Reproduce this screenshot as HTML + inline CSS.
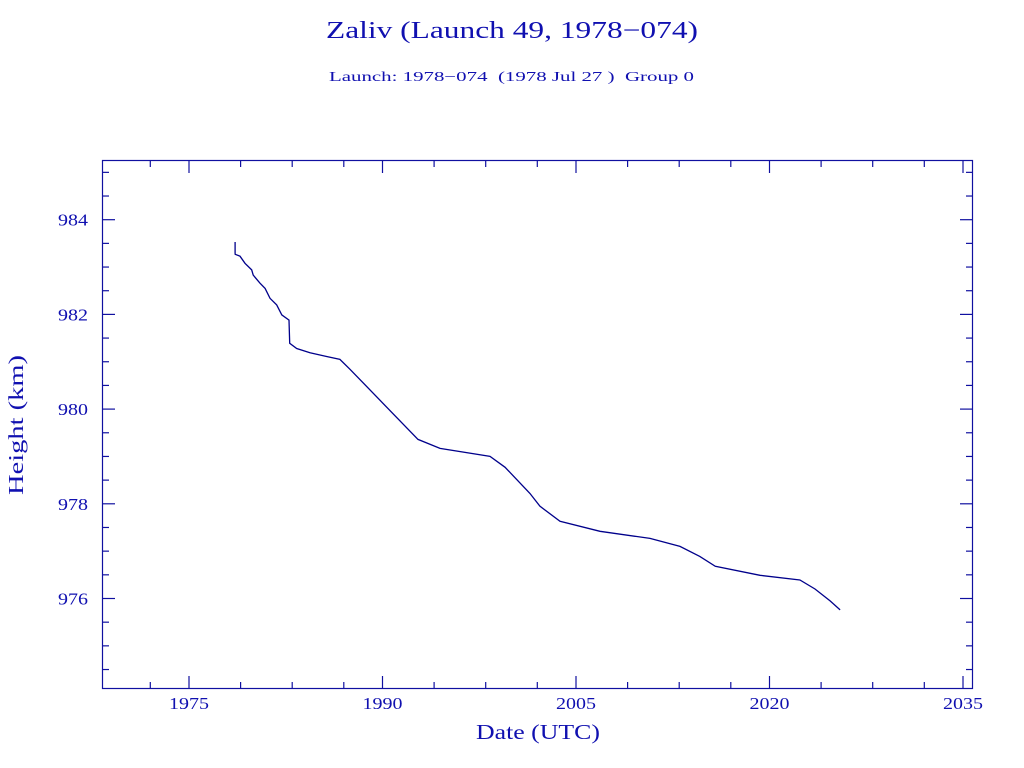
<!DOCTYPE html>
<html><head><meta charset="utf-8"><style>
body{margin:0;background:#fff;}
svg{display:block;font-family:"Liberation Serif",serif;}
text{white-space:pre;}
</style></head><body>
<svg width="1024" height="768">
<text x="326" y="38" font-size="24" fill="#1010b0" textLength="372" lengthAdjust="spacingAndGlyphs">Zaliv (Launch 49, 1978−074)</text>
<text x="329" y="81" font-size="14" fill="#1010b0" textLength="365" lengthAdjust="spacingAndGlyphs" xml:space="preserve">Launch: 1978−074  (1978 Jul 27 )  Group 0</text>
<rect x="102.5" y="160.5" width="870" height="528" fill="none" stroke="#1010a0" stroke-width="1.2"/>
<g id="axes"></g>
<path id="line" fill="none" stroke="#00008b" stroke-width="1.3"/>
<text x="476" y="739" font-size="21" fill="#1010b0" textLength="124" lengthAdjust="spacingAndGlyphs">Date (UTC)</text>
<text x="-495" y="23" font-size="21" fill="#1010b0" transform="rotate(-90)" textLength="140" lengthAdjust="spacingAndGlyphs">Height (km)</text>
</svg>
<script>
const years=[1978.57,1978.57,1978.58,1978.95,1979.34,1979.86,1979.98,1980.5,1980.9,1981.28,1981.8,1982.19,1982.75,1982.81,1983.35,1984.38,1985.67,1986.7,1987.48,1992.75,1994.46,1998.33,1999.5,2001.43,2002.2,2003.76,2006.86,2010.74,2013.06,2014.6,2015.8,2019.26,2022.36,2023.53,2024.7,2025.47];
const heights=[983.53,983.29,983.27,983.23,983.08,982.94,982.83,982.66,982.55,982.34,982.2,981.99,981.88,981.39,981.28,981.19,981.11,981.05,980.84,979.36,979.17,979.0,978.77,978.22,977.95,977.63,977.42,977.27,977.1,976.89,976.68,976.49,976.39,976.2,975.95,975.76];
const xMajor=[1975,1990,2005,2020,2035];
const xMinor=[1972,1979,1983,1987,1994,1998,2002,2009,2013,2017,2024,2028,2032];
const yMajor=[976,978,980,982,984];
const xs=v=>189+(v-1975)*12.9;
const ys=v=>219.7-(v-984)*47.35;
const NS="http://www.w3.org/2000/svg";
const g=document.getElementById('axes');
function ln(x1,y1,x2,y2,name){const l=document.createElementNS(NS,'line');
l.setAttribute('x1',x1);l.setAttribute('y1',y1);l.setAttribute('x2',x2);l.setAttribute('y2',y2);
l.setAttribute('stroke','#1010a0');l.setAttribute('stroke-width','1.2');


g.appendChild(l);}
function tx(x,y,s,name,anchor,w){const t=document.createElementNS(NS,'text');
t.setAttribute('x',x);t.setAttribute('y',y);t.setAttribute('font-size','17');t.setAttribute('fill','#1010b0');t.setAttribute('text-anchor',anchor);
t.setAttribute('textLength',w);t.setAttribute('lengthAdjust','spacingAndGlyphs');t.textContent=s;


g.appendChild(t);}
xMajor.forEach(v=>{const x=xs(v);ln(x,688,x,676,'x-major-tick');ln(x,161,x,173,'x-major-tick-top');tx(x,709,v,'x-tick-label','middle',40);});
xMinor.forEach(v=>{const x=xs(v);ln(x,688,x,682,'x-minor-tick');ln(x,161,x,167,'x-minor-tick-top');});
for(let v=974.5;v<=985.01;v+=0.5){const y=ys(v);const major=yMajor.includes(v);const L=major?12:6;
ln(103,y,103+L,y,major?'y-major-tick':'y-minor-tick');ln(972,y,972-L,y,major?'y-major-tick-right':'y-minor-tick-right');
if(major)tx(88,y+6,v,'y-tick-label','end',30);}
let d='';years.forEach((v,i)=>{d+=(i?'L':'M')+xs(v).toFixed(1)+' '+ys(heights[i]).toFixed(1);});
document.getElementById('line').setAttribute('d',d);
</script>
</body></html>
